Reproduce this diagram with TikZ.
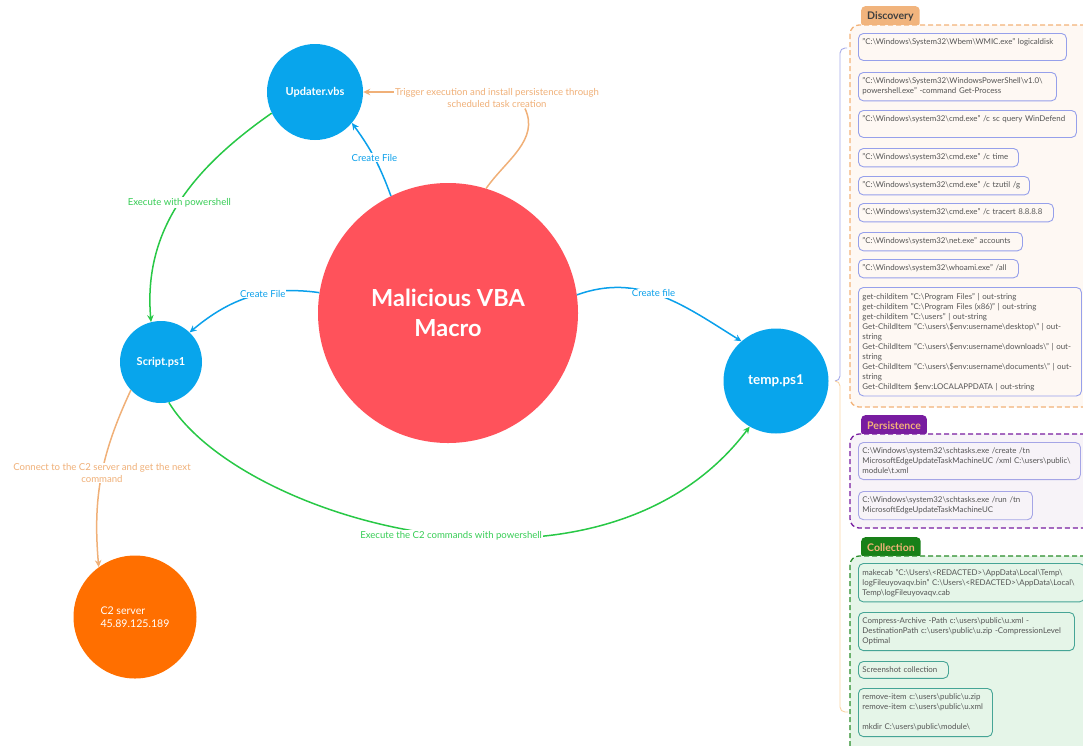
\documentclass[tikz,border=0pt]{standalone}
\usepackage{fontspec}
\setmainfont{Lato}
\usetikzlibrary{positioning,arrows.meta}

\definecolor{circblue}{RGB}{8,165,236}
\definecolor{macrored}{RGB}{255,82,91}
\definecolor{c2orange}{RGB}{255,111,0}
\definecolor{linkblue}{RGB}{10,160,235}
\definecolor{linkgreen}{RGB}{40,200,70}
\definecolor{lblgreen}{RGB}{55,205,85}
\definecolor{linkpeach}{RGB}{240,176,120}
\definecolor{cmdtext}{RGB}{85,85,85}
\definecolor{discotab}{RGB}{241,180,125}
\definecolor{discoline}{RGB}{242,178,120}
\definecolor{discofill}{RGB}{254,248,243}
\definecolor{discobox}{RGB}{150,160,235}
\definecolor{persisttab}{RGB}{120,28,160}
\definecolor{persistfill}{RGB}{247,243,248}
\definecolor{persistbox}{RGB}{165,165,230}
\definecolor{collecttab}{RGB}{24,128,24}
\definecolor{collectline}{RGB}{40,140,40}
\definecolor{collectfill}{RGB}{229,245,232}
\definecolor{collectbox}{RGB}{70,165,150}
\definecolor{tabpeach}{RGB}{242,178,120}
\definecolor{bracelav}{RGB}{165,170,232}
\definecolor{bracepeach}{RGB}{250,212,165}

\newcommand{\bs}{\textbackslash}

\begin{document}
\begin{tikzpicture}[x=1pt, y=-1pt, >={Stealth[length=7pt,width=6.5pt]},
  file/.style={circle, fill=circblue, text=white, inner sep=0pt, font=\bfseries\fontsize{11}{13}\selectfont},
  link/.style={->, line width=1.5pt, draw=#1},
  lbl/.style={fill=white, inner sep=1pt, align=center, font=\fontsize{9.6}{11.5}\selectfont},
  tab/.style={anchor=north west, rounded corners=4pt, minimum height=21pt, inner xsep=6pt, font=\bfseries\fontsize{10.5}{12}\selectfont},
  group/.style={dashed, dash pattern=on 5pt off 3pt, line width=1.3pt, rounded corners=9pt, draw=#1},
  cmd/.style={draw=#1, line width=0.9pt, rounded corners=5pt, anchor=north west, inner xsep=4pt, inner ysep=5.5pt, align=left, text=cmdtext, font=\fontsize{7.9}{10}\selectfont}
]
  \useasboundingbox (0,0) rectangle (1083,745);

  % Main circles
  \node[circle, fill=macrored, text=white, minimum size=260pt, align=center, font=\bfseries\fontsize{23.5}{30}\selectfont] (macro) at (448,313) {Malicious VBA\\Macro};
  \node[file, minimum size=96pt] (upd) at (315,92) {Updater.vbs};
  \node[file, minimum size=82pt] (script) at (161,362) {Script.ps1};
  \node[file, minimum size=105pt, font=\bfseries\fontsize{13.5}{15}\selectfont] (temp) at (776,381) {temp.ps1};
  \node[circle, fill=c2orange, text=white, minimum size=123pt, align=left, font=\fontsize{10.6}{13}\selectfont] (c2) at (135,617) {C2 server\\45.89.125.189};

  % Create File
  \draw[link=linkblue] (macro.116) to[bend right=8] node[lbl, text=linkblue] {Create File} (upd.-40);
  \draw[link=linkblue] (macro.171) to[out=172, in=40] node[lbl, text=linkblue, pos=0.4] {Create File} (script.46);
  \draw[link=linkblue] (macro.8) to[out=20, in=148] node[lbl, text=linkblue, pos=0.45] {Create file} (temp.131);

  % Persistence trigger
  \node[lbl, text=linkpeach] (trig) at (497,98) {Trigger execution and install persistence through\\scheduled task creation};
  \draw[line width=1.5pt, draw=linkpeach] (macro.73) to[out=55, in=-65] ([xshift=28pt]trig.south);
  \draw[link=linkpeach] (trig.west |- upd.east) -- (upd.east);

  % Powershell
  \draw[link=linkgreen] (upd.206) to[out=215, in=95] node[lbl, text=lblgreen, pos=0.5] {Execute with powershell} (script.104);
  \draw[link=linkgreen] (script.-79) .. controls (240,520) and (600,625) .. node[lbl, text=lblgreen, pos=0.53] {Execute the C2 commands with powershell} (temp.240);

  % C2
  \draw[link=linkpeach] (script.223) to[out=245, in=95] node[lbl, text=linkpeach, pos=0.48] {Connect to the C2 server and get the next\\command} (c2.126);

  % Braces
  \coordinate (cusp) at (835,381);
  \draw[bracelav, line width=0.9pt, rounded corners=5pt] (847,48) -- (840,48) -- (840,381) -- (cusp);
  \draw[bracepeach, line width=0.9pt, rounded corners=5pt] (cusp) -- (840,381) -- (840,712) -- (848,712);

  % Discovery
  \node[tab, fill=discotab, text=black!75] (disctab) at (861,6) {Discovery};
  \draw[group=discoline, fill=discofill] (850,25) rectangle (1100,407);
  \node[cmd=discobox, text width=200pt] (d1) at (858,33) {"C:\bs Windows\bs System32\bs Wbem\bs WMIC.exe" logicaldisk\\ ~};
  \node[cmd=discobox, text width=190pt] (d2) at (858,72) {"C:\bs Windows\bs System32\bs WindowsPowerShell\bs v1.0\bs\\ powershell.exe" -command Get-Process};
  \node[cmd=discobox, text width=210pt] (d3) at (858,110) {"C:\bs Windows\bs system32\bs cmd.exe" /c sc query WinDefend\\ ~};
  \node[cmd=discobox, text width=152pt] (d4) at (858,148) {"C:\bs Windows\bs system32\bs cmd.exe" /c time};
  \node[cmd=discobox, text width=163pt] (d5) at (858,176) {"C:\bs Windows\bs system32\bs cmd.exe" /c tzutil /g};
  \node[cmd=discobox, text width=187pt] (d6) at (858,203) {"C:\bs Windows\bs system32\bs cmd.exe" /c tracert 8.8.8.8};
  \node[cmd=discobox, text width=156pt] (d7) at (858,232) {"C:\bs Windows\bs system32\bs net.exe" accounts};
  \node[cmd=discobox, text width=152pt] (d8) at (858,259) {"C:\bs Windows\bs system32\bs whoami.exe" /all};
  \node[cmd=discobox, text width=215pt] (d9) at (858,287) {get-childitem "C:\bs Program Files" | out-string\\
    get-childitem "C:\bs Program Files (x86)" | out-string\\
    get-childitem "C:\bs users" | out-string\\
    Get-ChildItem "C:\bs users\bs\$env:username\bs desktop\bs" | out-\\ string\\
    Get-ChildItem "C:\bs users\bs\$env:username\bs downloads\bs" | out-\\ string\\
    Get-ChildItem "C:\bs users\bs\$env:username\bs documents\bs" | out-\\ string\\
    Get-ChildItem \$env:LOCALAPPDATA | out-string};

  % Persistence
  \node[tab, fill=persisttab, text=tabpeach] (perstab) at (861,415) {Persistence};
  \draw[group=persisttab, fill=persistfill] (850,434) rectangle (1100,528);
  \node[cmd=persistbox, text width=214pt] (p1) at (858,442) {C:\bs Windows\bs system32\bs schtasks.exe /create /tn\\ MicrosoftEdgeUpdateTaskMachineUC /xml C:\bs users\bs public\bs\\ module\bs t.xml};
  \node[cmd=persistbox, text width=166pt] (p2) at (858,491) {C:\bs Windows\bs system32\bs schtasks.exe /run /tn\\ MicrosoftEdgeUpdateTaskMachineUC};

  % Collection
  \node[tab, fill=collecttab, text=tabpeach] (coltab) at (861,537) {Collection};
  \draw[group=collectline, fill=collectfill] (850,556) rectangle (1100,770);
  \node[cmd=collectbox, text width=218pt] (c1) at (858,563) {makecab "C:\bs Users\bs<REDACTED>\bs AppData\bs Local\bs Temp\bs\\ logFileuyovaqv.bin" C:\bs Users\bs<REDACTED>\bs AppData\bs Local\bs\\ Temp\bs logFileuyovaqv.cab};
  \node[cmd=collectbox, text width=208pt] (c2b) at (858,612) {Compress-Archive -Path c:\bs users\bs public\bs u.xml -\\ DestinationPath c:\bs users\bs public\bs u.zip -CompressionLevel\\ Optimal};
  \node[cmd=collectbox, text width=82pt] (c3) at (858,661) {Screenshot collection};
  \node[cmd=collectbox, text width=126pt] (c4) at (858,688) {remove-item c:\bs users\bs public\bs u.zip\\ remove-item c:\bs users\bs public\bs u.xml\\ ~\\ mkdir C:\bs users\bs public\bs module\bs};
\end{tikzpicture}
\end{document}
